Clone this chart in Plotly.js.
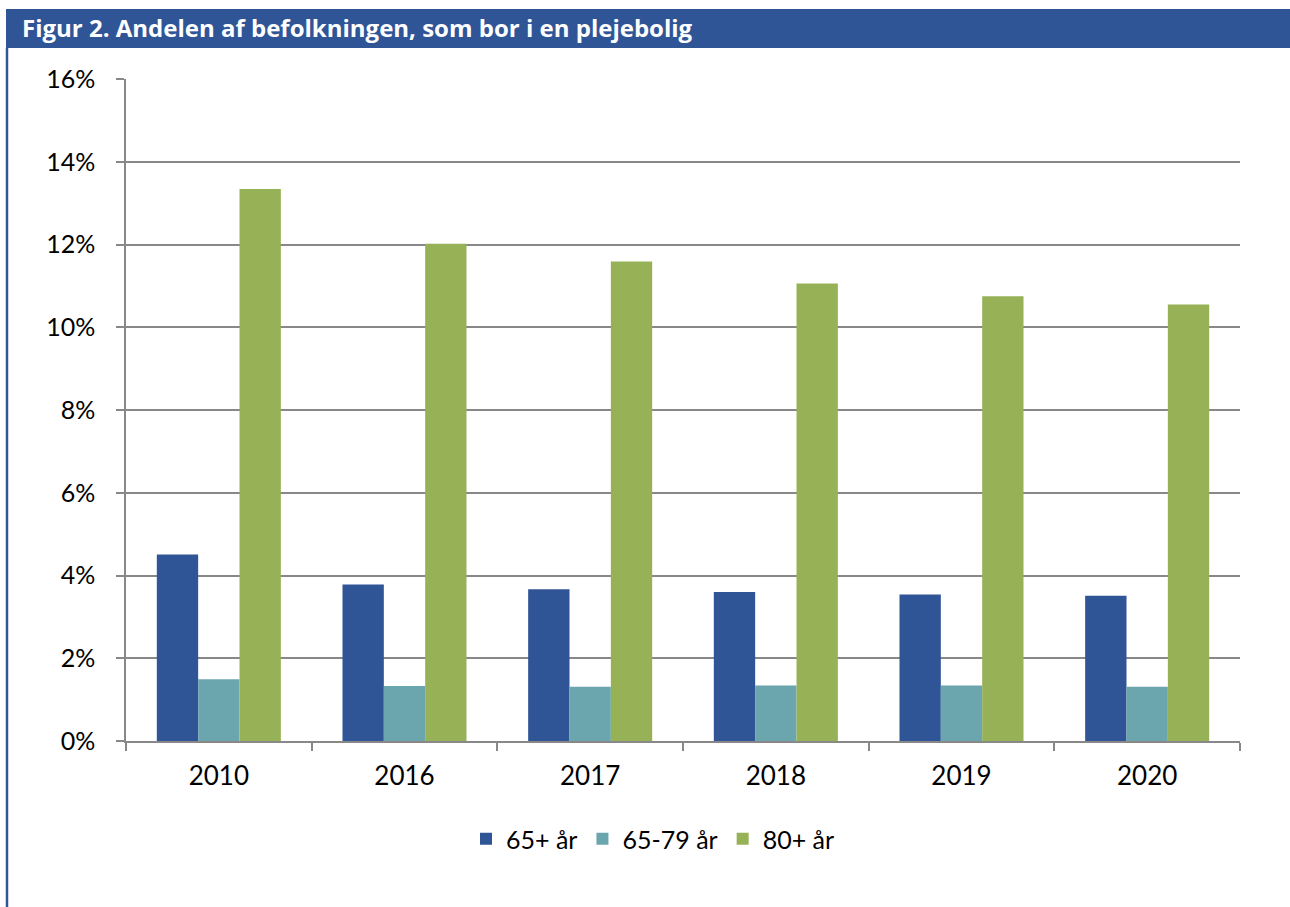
<!DOCTYPE html>
<html>
<head>
<meta charset="utf-8">
<script src="https://cdn.plot.ly/plotly-3.0.1.min.js"></script>
<style>
html,body{margin:0;padding:0;background:#fff;}
#chart{width:1290px;height:907px;}
</style>
</head>
<body>
<div id="chart"></div>
<script>
const years = ['2010', '2016', '2017', '2018', '2019', '2020'];
const seriesNames = ['65+ år', '65-79 år', '80+ år'];
const age65plus = [4.51, 3.78, 3.67, 3.60, 3.54, 3.51];
const age65to79 = [1.49, 1.33, 1.31, 1.34, 1.34, 1.31];
const age80plus = [13.34, 12.02, 11.59, 11.06, 10.75, 10.55];
const yTicks = [0, 2, 4, 6, 8, 10, 12, 14, 16];
const titleText = 'Figur 2. Andelen af befolkningen, som bor i en plejebolig';

const colors = ['#2F5597', '#6BA5AE', '#97B157'];
const values = [age65plus, age65to79, age80plus];

const traces = seriesNames.map((name, i) => ({
  type: 'bar',
  name: name,
  x: years,
  y: values[i],
  marker: {color: colors[i], line: {width: 0}},
  hoverinfo: 'x+y+name'
}));

const W = 1290, H = 907;
const mL = 126, mR = 50, mT = 79, mB = 166;
const pw = W - mL - mR, ph = H - mT - mB;
const px = v => (v - mL) / pw;
const py = v => (H - mB - v) / ph;

const layout = {
  width: W,
  height: H,
  margin: {l: mL, r: mR, t: mT, b: mB, pad: 0},
  paper_bgcolor: '#ffffff',
  plot_bgcolor: '#ffffff',
  font: {family: 'Lato, "Open Sans", sans-serif', size: 24, color: '#000000'},
  title: {
    text: '<b>' + titleText + '</b>',
    font: {family: '"Open Sans", sans-serif', size: 24, color: '#ffffff'},
    xref: 'container', yref: 'container',
    x: 22 / W, xanchor: 'left',
    y: 1 - 29 / H, yanchor: 'middle'
  },
  barmode: 'group',
  bargap: 0.332,
  bargroupgap: 0,
  showlegend: true,
  legend: {
    orientation: 'h',
    x: px(653), xanchor: 'center',
    y: py(839), yanchor: 'middle',
    font: {size: 25, color: '#000000'},
    traceorder: 'normal',
    itemsizing: 'constant'
  },
  xaxis: {
    type: 'category',
    tickson: 'boundaries',
    ticks: 'outside',
    ticklen: 8,
    tickwidth: 1.5,
    tickcolor: '#888888',
    showline: true,
    linecolor: '#888888',
    linewidth: 1.5,
    showgrid: false,
    ticklabelstandoff: 11,
    tickfont: {size: 26}
  },
  yaxis: {
    range: [0, 16],
    tickvals: yTicks,
    ticktext: yTicks.map(v => v + '%'),
    ticks: 'outside',
    ticklen: 8,
    tickwidth: 1.5,
    tickcolor: '#888888',
    showline: true,
    linecolor: '#888888',
    linewidth: 1.5,
    showgrid: true,
    gridcolor: '#888888',
    gridwidth: 1.5,
    zeroline: false,
    ticklabelstandoff: 16,
    tickfont: {size: 25}
  },
  shapes: [
    {
      type: 'rect', xref: 'paper', yref: 'paper',
      x0: px(6), x1: px(1290), y0: py(48), y1: py(9),
      fillcolor: '#2F5597', line: {width: 0}, layer: 'below'
    },
    {
      type: 'line', xref: 'paper', yref: 'paper',
      x0: px(7), x1: px(7), y0: py(48), y1: py(907),
      line: {color: '#2F5597', width: 2.5}
    }
  ]
};

Plotly.newPlot('chart', traces, layout, {displayModeBar: false, staticPlot: false});
</script>
</body>
</html>
